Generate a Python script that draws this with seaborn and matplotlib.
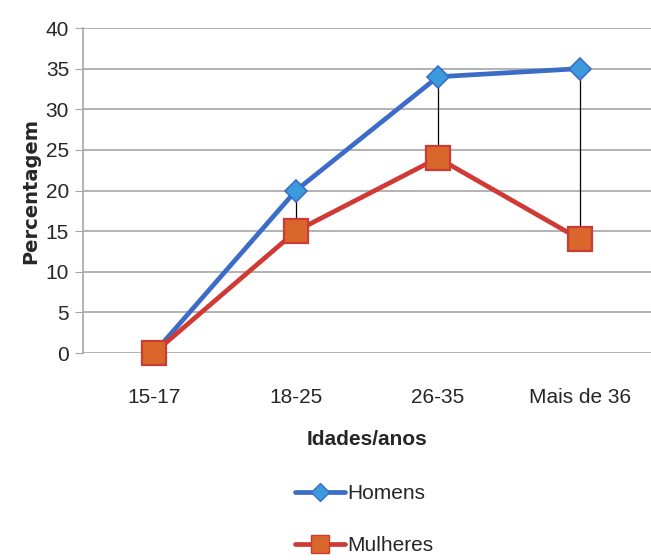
import numpy as np
import pandas as pd
import seaborn as sns
import matplotlib.pyplot as plt
from matplotlib.lines import Line2D

# data
idades = ["15-17", "18-25", "26-35", "Mais de 36"]
homens = [0, 20, 34, 35]
mulheres = [0, 15, 24, 14]

df = pd.DataFrame({
    "Idades": idades * 2,
    "Percentagem": homens + mulheres,
    "Sexo": ["Homens"] * 4 + ["Mulheres"] * 4,
})

sns.set_style("white")
plt.rcParams["font.family"] = ["Liberation Sans Narrow", "Liberation Sans", "DejaVu Sans"]

fig = plt.figure(figsize=(6.51, 5.6), dpi=100)
ax = fig.add_axes([0.1275, 0.3696, 0.8725, 0.5804])

# high-low lines between the two series
pos = np.arange(len(idades))
ax.vlines(pos[1:], np.array(mulheres[1:]), np.array(homens[1:]),
          color="black", lw=0.9, zorder=2)

line_colors = {"Homens": "#3a6cc8", "Mulheres": "#d03a35"}
sns.lineplot(data=df, x="Idades", y="Percentagem", hue="Sexo",
             palette=line_colors, lw=3.4, legend=False, ax=ax, zorder=3)

# markers on top
ax.plot(pos, homens, ls="none", marker="D", ms=11, mfc="#3c9bdc",
        mec="#3a6cc8", mew=1.2, zorder=4, clip_on=False)
ax.plot(pos, mulheres, ls="none", marker="s", ms=17, mfc="#d9672c",
        mec="#d03a35", mew=1.6, zorder=5, clip_on=False)

ax.set_xlim(-0.5, 3.5)
ax.set_ylim(0, 40)
ax.set_yticks(range(0, 41, 5))
ax.yaxis.grid(True, color="#a6a6a6", lw=1.2)
ax.set_axisbelow(True)
for s in ["top", "right", "bottom"]:
    ax.spines[s].set_visible(False)
ax.spines["left"].set_color("#a6a6a6")
ax.spines["left"].set_linewidth(1.2)
ax.tick_params(axis="y", left=True, length=6, color="#a6a6a6", labelsize=15, pad=4)
ax.tick_params(axis="x", bottom=False, labelsize=15, pad=22)

ax.set_ylabel("Percentagem", fontsize=14, fontweight="bold",
              family=["DejaVu Sans"], labelpad=4)
ax.set_xlabel("Idades/anos", fontsize=15, fontweight="bold", labelpad=16)

handles = [
    Line2D([], [], color="#3a6cc8", lw=3.4, marker="D", ms=9,
           mfc="#3c9bdc", mec="#3a6cc8"),
    Line2D([], [], color="#d03a35", lw=3.4, marker="s", ms=13,
           mfc="#d9672c", mec="#d03a35"),
]
fig.legend(handles, ["Homens", "Mulheres"], loc="lower center",
           bbox_to_anchor=(0.56, -0.025), frameon=False, fontsize=15,
           handlelength=2.4, handletextpad=0.1, labelspacing=1.6)

fig.savefig("out.png", dpi=100)
